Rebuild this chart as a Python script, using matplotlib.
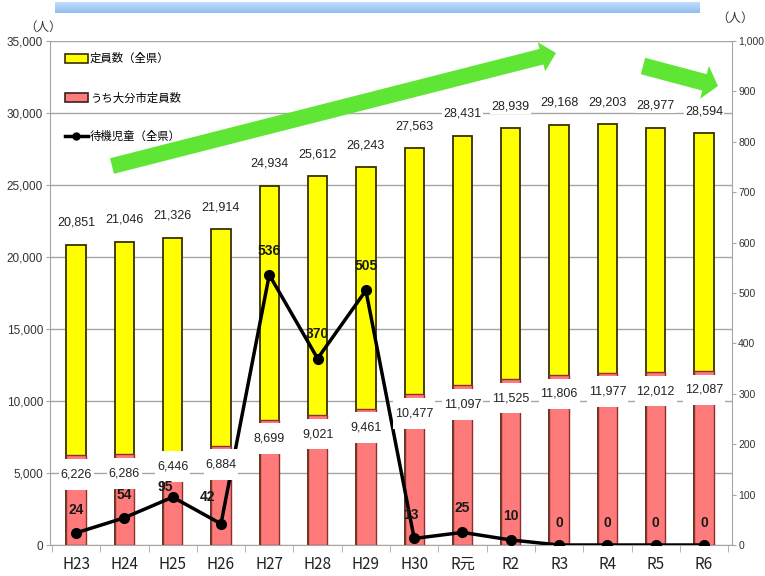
import matplotlib
matplotlib.use('Agg')
import matplotlib.pyplot as plt
import numpy as np
from matplotlib import font_manager as fm
from matplotlib.patches import FancyArrow, Rectangle
from matplotlib.lines import Line2D
from matplotlib.ticker import FuncFormatter, MultipleLocator, FixedLocator
from matplotlib.colors import LinearSegmentedColormap

# ---------------- data ----------------
categories = ['H23', 'H24', 'H25', 'H26', 'H27', 'H28', 'H29', 'H30', 'R元', 'R2', 'R3', 'R4', 'R5', 'R6']
capacity_pref = [20851, 21046, 21326, 21914, 24934, 25612, 26243, 27563, 28431, 28939, 29168, 29203, 28977, 28594]
capacity_oita = [6226, 6286, 6446, 6884, 8699, 9021, 9461, 10477, 11097, 11525, 11806, 11977, 12012, 12087]
waiting = [24, 54, 95, 42, 536, 370, 505, 13, 25, 10, 0, 0, 0, 0]

legend_labels = ['定員数（全県）', 'うち大分市定員数', '待機児童（全県）']

# label placement (pixels) for the waiting-children labels
wait_dx = [0, 0, -7, -14, 0, 0, 0, -3, 0, 0, 0, 0, 0, 0]
wait_dy = [23, 23, 10, 27, 24, 25, 24, 23, 24, 24, 22, 22, 22, 22]
# label placement (pixels) for the Oita city labels
oita_dy = [-19, -19, -14, -19, -19, -19, -19, -19, -19, -19, -19, -19, -19, -19]

# ---------------- fonts ----------------
names = {f.name for f in fm.fontManager.ttflist}
NUM = 'Liberation Sans Narrow' if 'Liberation Sans Narrow' in names else 'Liberation Sans'
CJK = 'Noto Sans CJK JP'

W, H = 765, 576
fig = plt.figure(figsize=(W / 100, H / 100), dpi=100)

ax = fig.add_axes([50 / W, 31 / H, 682 / W, 504 / H])
x = np.arange(len(categories))

grid_c = '#a6a6a6'
ax.set_xlim(-0.54, len(categories) - 1 + 0.58)
ax.set_ylim(0, 35000)
ax.yaxis.set_major_locator(MultipleLocator(5000))
ax.yaxis.set_major_formatter(FuncFormatter(lambda v, p: f'{int(v):,}'))
ax.grid(axis='y', color=grid_c, lw=1.0, zorder=0)
ax.set_axisbelow(True)

ax.bar(x, capacity_pref, width=0.4, color='#ffff00', edgecolor='#3a2f00', lw=1.3, zorder=2)
ax.bar(x, capacity_oita, width=0.4, color='#ff7b7b', edgecolor='#8a3030', lw=1.0, zorder=3)

for s in ['top', 'right']:
    ax.spines[s].set_visible(False)
for s in ['left', 'bottom']:
    ax.spines[s].set_color(grid_c)

ax.set_xticks(x)
ax.set_xticklabels(categories, fontfamily=CJK, fontsize=11, color='#222222')
ax.tick_params(axis='x', which='major', length=0, pad=8)
ax.xaxis.set_minor_locator(FixedLocator(np.arange(-0.5, len(categories), 1.0)))
ax.tick_params(axis='x', which='minor', length=5, color=grid_c)
ax.tick_params(axis='y', length=3, color=grid_c, pad=2, labelsize=8.5, labelcolor='#333333')
for t in ax.get_yticklabels():
    t.set_fontfamily(NUM)

ax2 = ax.twinx()
ax2.set_ylim(0, 1000)
ax2.yaxis.set_major_locator(MultipleLocator(100))
ax2.yaxis.set_major_formatter(FuncFormatter(lambda v, p: f'{int(v):,}'))
for s in ['top', 'left', 'bottom']:
    ax2.spines[s].set_visible(False)
ax2.spines['right'].set_color(grid_c)
ax2.tick_params(axis='y', length=3, color=grid_c, pad=1.5, labelsize=7.5, labelcolor='#333333')
for t in ax2.get_yticklabels():
    t.set_fontfamily(NUM)

ax2.plot(x, waiting, color='black', lw=2.5, marker='o', ms=7, zorder=3)

# labels for total capacity (above bars)
for i, v in enumerate(capacity_pref):
    ax2.annotate(f'{v:,}', xy=(i, v), xycoords=ax.transData, xytext=(0, 22),
                 textcoords='offset pixels', ha='center', va='center',
                 fontsize=9, fontfamily=NUM, color='#222222', zorder=5,
                 bbox=dict(boxstyle='square,pad=0.1', fc='white', ec='none'))

# labels for Oita city capacity (tall white boxes over bars)
for i, v in enumerate(capacity_oita):
    ax2.annotate(f' \n{v:,}\n ', xy=(i, v), xycoords=ax.transData, xytext=(0, oita_dy[i]),
                 textcoords='offset pixels', ha='center', va='center', multialignment='center',
                 fontsize=9, fontfamily=NUM, color='#222222', zorder=5, linespacing=0.5,
                 bbox=dict(boxstyle='square,pad=0.15', fc='white', ec='none'))

# labels for waiting children
for i, v in enumerate(waiting):
    ax2.annotate(f'{v}', xy=(i, v), xytext=(wait_dx[i], wait_dy[i]),
                 textcoords='offset pixels', ha='center', va='center',
                 fontsize=10, fontfamily=NUM, fontweight='bold', color='#1a1a1a', zorder=6)

handles = [Rectangle((0, 0), 1, 1, fc='#ffff00', ec='#3a2f00', lw=1.2),
           Rectangle((0, 0), 1, 1, fc='#ff7b7b', ec='#3a2020', lw=1.2),
           Line2D([], [], color='black', lw=2.5, marker='o', ms=5)]
ax2.legend(handles, legend_labels, loc='upper left', bbox_to_anchor=(15 / 682, 1 - 12 / 504),
           frameon=False, prop=dict(family=CJK, size=8.2), labelspacing=2.45,
           handlelength=2.0, handleheight=0.8, handletextpad=0.2, borderaxespad=0,
           borderpad=0)

# decorative green arrows (figure pixel space)
tr = fig.dpi_scale_trans
def px(xp, yp):
    return xp / 100, (H - yp) / 100

x0, y0 = px(112, 166)
x1, y1 = px(556, 53)
fig.add_artist(FancyArrow(x0, y0, x1 - x0, y1 - y0, width=0.16, head_width=0.30,
                          head_length=0.15, length_includes_head=True,
                          transform=tr, color='#5fe634', ec='none', zorder=10))
x0, y0 = px(643, 66)
x1, y1 = px(718, 86)
fig.add_artist(FancyArrow(x0, y0, x1 - x0, y1 - y0, width=0.17, head_width=0.34,
                          head_length=0.14, length_includes_head=True,
                          transform=tr, color='#5fe634', ec='none', zorder=10))

# blue gradient banner
bax = fig.add_axes([55 / W, 1 - 13 / H, 645 / W, 11 / H])
cmap = LinearSegmentedColormap.from_list('b', ['#c4ddf8', '#8fbff2'])
bax.imshow(np.linspace(0, 1, 20).reshape(-1, 1), aspect='auto', cmap=cmap)
bax.axis('off')

# unit labels
fig.text(43 / W, 1 - 27 / H, '（人）', ha='center', va='center', fontsize=9, fontfamily=CJK, color='#333333')
fig.text(735 / W, 1 - 18 / H, '（人）', ha='center', va='center', fontsize=9, fontfamily=CJK, color='#333333')

fig.savefig('out.png', dpi=100)
